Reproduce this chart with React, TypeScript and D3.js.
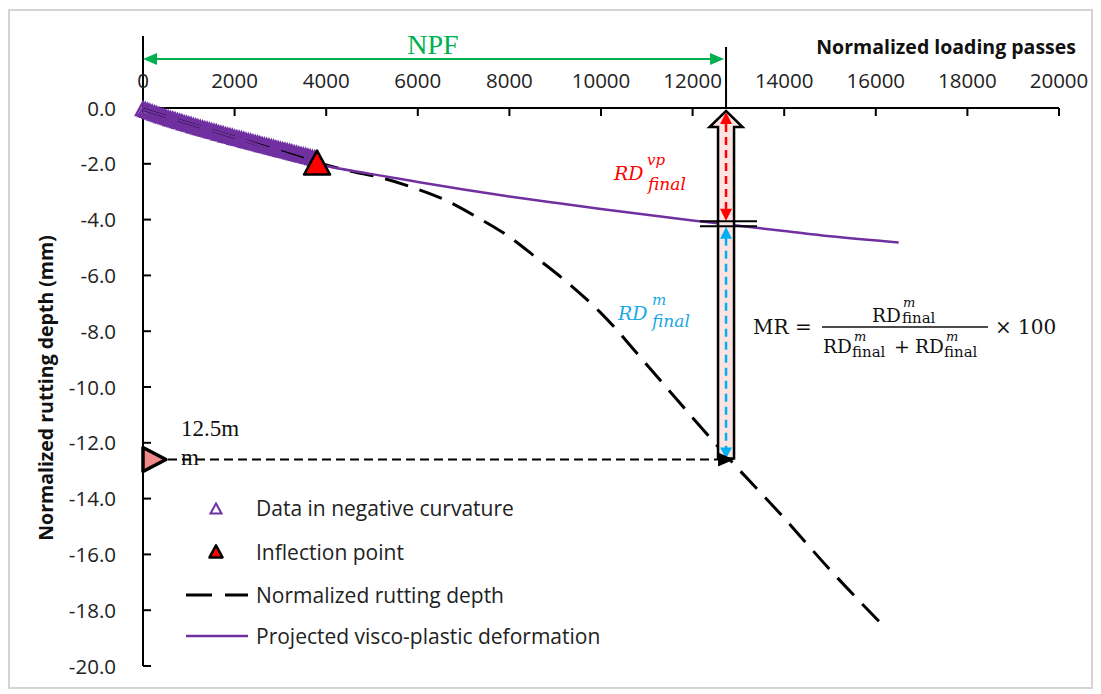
import React from 'react';
import * as d3 from 'd3';

// ---------- data ----------
const xTicks = [0, 2000, 4000, 6000, 8000, 10000, 12000, 14000, 16000, 18000, 20000];
const yTicks = [0, -2, -4, -6, -8, -10, -12, -14, -16, -18, -20];

const curvaturePasses = [0, 50, 100, 150, 200, 250, 300, 350, 400, 450, 500, 550, 600, 650, 700, 750, 800, 850, 900, 950, 1000, 1050, 1100, 1150, 1200, 1250, 1300, 1350, 1400, 1450, 1500, 1550, 1600, 1650, 1700, 1750, 1800, 1850, 1900, 1950, 2000, 2050, 2100, 2150, 2200, 2250, 2300, 2350, 2400, 2450, 2500, 2550, 2600, 2650, 2700, 2750, 2800, 2850, 2900, 2950, 3000, 3050, 3100, 3150, 3200, 3250, 3300, 3350, 3400, 3450, 3500, 3550, 3600, 3650, 3700, 3750, 3800];
const curvatureDepth = [-0.04, -0.08, -0.11, -0.14, -0.17, -0.2, -0.23, -0.26, -0.29, -0.31, -0.34, -0.37, -0.4, -0.42, -0.45, -0.47, -0.5, -0.52, -0.55, -0.57, -0.6, -0.62, -0.65, -0.67, -0.7, -0.72, -0.74, -0.77, -0.79, -0.81, -0.84, -0.86, -0.88, -0.91, -0.93, -0.95, -0.98, -1.0, -1.02, -1.04, -1.07, -1.09, -1.11, -1.13, -1.15, -1.18, -1.2, -1.22, -1.24, -1.26, -1.28, -1.31, -1.33, -1.35, -1.37, -1.39, -1.41, -1.43, -1.46, -1.48, -1.5, -1.52, -1.54, -1.56, -1.58, -1.6, -1.63, -1.65, -1.67, -1.69, -1.71, -1.73, -1.75, -1.77, -1.8, -1.82, -1.84];

const inflectionPasses = [3800];
const inflectionDepth = [-2.0];

const rutPasses = [0, 1000, 2000, 3000, 3800, 4500, 5200, 5800, 6600, 7300, 8000, 8600, 9300, 10000, 11000, 12000, 12700, 14000, 15000, 16250];
const rutDepth = [-0.05, -0.55, -1.05, -1.55, -1.95, -2.25, -2.5, -2.8, -3.3, -3.92, -4.62, -5.38, -6.3, -7.35, -9.2, -11.1, -12.4, -14.7, -16.55, -18.7];

const vpPasses = [0, 1000, 2000, 3000, 3800, 5000, 6000, 7000, 8000, 9000, 10000, 11000, 12000, 13000, 14000, 15000, 16500];
const vpDepth = [-0.05, -0.55, -1.05, -1.58, -2.0, -2.37, -2.65, -2.92, -3.17, -3.4, -3.62, -3.83, -4.03, -4.22, -4.41, -4.6, -4.82];

const npfPasses = 12730;
const vpFinalDepth = -4.15;
const thresholdDepth = -12.6;

const legendItems = ['Data in negative curvature', 'Inflection point', 'Normalized rutting depth', 'Projected visco-plastic deformation'];

// ---------- layout ----------
const W = 1101;
const H = 694;
const x = d3.scaleLinear().domain([0, 20000]).range([143, 1059]);
const y = d3.scaleLinear().domain([0, -20]).range([108, 666]);

const PURPLE = '#7030A0';
const GREEN = '#00B050';
const RED = '#FF0000';
const BLUE = '#00B0F0';
const SANS = "'Open Sans', 'Liberation Sans', sans-serif";
const SERIF = "'Liberation Serif', 'DejaVu Serif', serif";
const MATH = "'DejaVu Serif', 'Liberation Serif', serif";

const tri = (cx: number, cy: number, w: number, h: number) =>
  `M${cx},${cy - h * 0.55} L${cx + w / 2},${cy + h * 0.45} L${cx - w / 2},${cy + h * 0.45} Z`;

export default function App() {
  const rutLine = d3.line<number>().x((d, i) => x(rutPasses[i])).y((d) => y(d)).curve(d3.curveMonotoneX);
  const vpLine = d3.line<number>().x((d, i) => x(vpPasses[i])).y((d) => y(d)).curve(d3.curveMonotoneX);

  const cx = x(npfPasses);
  const yT = y(thresholdDepth);
  const yVP = y(vpFinalDepth);
  const shaft = 8;
  const head = 16.5;
  const tipY = 111;
  const headY = 127;
  const botY = yT - 1;
  const blockArrow = `M${cx},${tipY} L${cx + head},${headY} L${cx + shaft},${headY} L${cx + shaft},${botY} L${cx - shaft},${botY} L${cx - shaft},${headY} L${cx - head},${headY} Z`;

  return (
    <svg width={W} height={H} style={{ position: 'absolute', left: 0, top: 0, background: '#fff' }}>
      <rect x={9} y={10} width={1083} height={678} fill="#fff" stroke="#d4d4d4" strokeWidth={2} />

      {/* axes */}
      <line x1={x(0)} x2={x(0)} y1={36} y2={y(-20)} stroke="#000" strokeWidth={2} />
      <line x1={x(0)} x2={x(20000)} y1={y(0)} y2={y(0)} stroke="#000" strokeWidth={2} />
      {xTicks.map((t) => (
        <g key={'x' + t}>
          {t > 0 && <line x1={x(t)} x2={x(t)} y1={y(0)} y2={y(0) + 8} stroke="#000" strokeWidth={2} />}
          <text x={x(t)} y={88} textAnchor="middle" fontFamily={SANS} fontSize={20.5} fill="#222">{t}</text>
        </g>
      ))}
      {yTicks.map((t) => (
        <g key={'y' + t}>
          {t < 0 && <line x1={x(0)} x2={x(0) + 8} y1={y(t)} y2={y(t)} stroke="#000" strokeWidth={2} />}
          <text x={116} y={y(t) + 7.5} textAnchor="end" fontFamily={SANS} fontSize={20.5} fill="#222">{t.toFixed(1)}</text>
        </g>
      ))}
      <text x={1076} y={54} textAnchor="end" fontFamily={SANS} fontSize={19.5} fontWeight="bold" fill="#111">Normalized loading passes</text>
      <text transform={`translate(53,388) rotate(-90)`} textAnchor="middle" fontFamily={SANS} fontSize={19.5} fontWeight="bold" fill="#111">Normalized rutting depth (mm)</text>

      {/* NPF arrow */}
      <line x1={x(0) + 10} x2={cx - 12} y1={59} y2={59} stroke={GREEN} strokeWidth={2} />
      <path d={`M${x(0)},59 L${x(0) + 14},53 L${x(0) + 14},65 Z`} fill={GREEN} />
      <path d={`M${cx - 2},59 L${cx - 16},53 L${cx - 16},65 Z`} fill={GREEN} />
      <text x={433} y={54} textAnchor="middle" fontFamily={SERIF} fontSize={28} fill={GREEN}>NPF</text>
      <line x1={cx} x2={cx} y1={47} y2={y(0)} stroke="#000" strokeWidth={2} />

      {/* curves */}
      {curvatureDepth.map((d, i) => (
        <path key={'c' + i} d={tri(x(curvaturePasses[i]), y(d), 14, 13)} fill="none" stroke={PURPLE} strokeWidth={2.4} />
      ))}
      <path d={rutLine(rutDepth) || ''} fill="none" stroke="#000" strokeWidth={3} strokeDasharray="24 12" />
      <path d={vpLine(vpDepth) || ''} fill="none" stroke={PURPLE} strokeWidth={2.5} />
      {inflectionDepth.map((d, i) => (
        <path key={'inf' + i} d={tri(x(inflectionPasses[i]), y(d), 26, 24)} fill={RED} stroke="#000" strokeWidth={2.5} strokeLinejoin="round" />
      ))}

      {/* threshold */}
      <line x1={168} x2={cx - 8} y1={yT} y2={yT} stroke="#000" strokeWidth={2} strokeDasharray="9 5" />
      <path d={`M${x(0)},${yT - 12} L${x(0) + 23},${yT} L${x(0)},${yT + 12} Z`} fill="#F08A8A" stroke="#000" strokeWidth={3.5} strokeLinejoin="round" />
      <text x={181} y={436} fontFamily={SERIF} fontSize={23} fill="#111">12.5m</text>
      <text x={181} y={465} fontFamily={SERIF} fontSize={23} fill="#111">m</text>

      {/* block arrow */}
      <path d={blockArrow} fill="#FCE4E2" stroke="#000" strokeWidth={2.5} strokeLinejoin="miter" />
      <line x1={cx} x2={cx} y1={124} y2={yVP - 14} stroke={RED} strokeWidth={2.5} strokeDasharray="8 5" />
      <path d={`M${cx},${tipY + 1} L${cx + 6},${tipY + 13} L${cx - 6},${tipY + 13} Z`} fill={RED} />
      <path d={`M${cx},${yVP - 3} L${cx + 6},${yVP - 15} L${cx - 6},${yVP - 15} Z`} fill={RED} />
      <line x1={cx} x2={cx} y1={yVP + 14} y2={botY - 8} stroke={BLUE} strokeWidth={2.5} strokeDasharray="8 5" />
      <path d={`M${cx},${yVP + 3} L${cx + 6},${yVP + 15} L${cx - 6},${yVP + 15} Z`} fill={BLUE} />
      <path d={`M${cx},${botY} L${cx + 6},${botY - 11} L${cx - 6},${botY - 11} Z`} fill={BLUE} />
      <line x1={700} x2={757} y1={yVP - 2.5} y2={yVP - 2.5} stroke="#000" strokeWidth={2} />
      <line x1={700} x2={757} y1={yVP + 2.5} y2={yVP + 2.5} stroke="#000" strokeWidth={2} />
      <path d={`M${cx + 8},${yT} L${cx - 8},${yT - 7} L${cx - 8},${yT + 7} Z`} fill="#000" />

      {/* RD labels */}
      <g fontFamily={MATH} fontStyle="italic" fill={RED}>
        <text x={614} y={180} fontSize={19}>RD</text>
        <text x={647} y={165} fontSize={15}>vp</text>
        <text x={648} y={190} fontSize={17}>final</text>
      </g>
      <g fontFamily={MATH} fontStyle="italic" fill="#1AA8E6">
        <text x={618} y={320} fontSize={19}>RD</text>
        <text x={652} y={305} fontSize={15}>m</text>
        <text x={652} y={327} fontSize={17}>final</text>
      </g>

      {/* formula */}
      <g fontFamily={MATH} fill="#111">
        <text x={753} y={334} fontSize={20}>MR =</text>
        <text x={872} y={322} fontSize={18.5}>RD</text>
        <text x={903} y={307} fontSize={13} fontStyle="italic">m</text>
        <text x={902} y={323} fontSize={15}>final</text>
        <line x1={822} x2={988} y1={327} y2={327} stroke="#111" strokeWidth={1.3} />
        <text x={823} y={353} fontSize={18.5}>RD</text>
        <text x={854} y={341} fontSize={13} fontStyle="italic">m</text>
        <text x={852} y={357} fontSize={15}>final</text>
        <text x={894} y={353} fontSize={19}>+</text>
        <text x={915} y={353} fontSize={18.5}>RD</text>
        <text x={946} y={341} fontSize={13} fontStyle="italic">m</text>
        <text x={944} y={357} fontSize={15}>final</text>
        <text x={995} y={334} fontSize={20}>× 100</text>
      </g>

      {/* legend */}
      <path d={tri(216, 509, 11, 10)} fill="none" stroke={PURPLE} strokeWidth={2} />
      <path d={tri(216, 552, 13, 12)} fill={RED} stroke="#000" strokeWidth={2.5} strokeLinejoin="round" />
      <line x1={186} x2={248} y1={595} y2={595} stroke="#000" strokeWidth={3} strokeDasharray="26 13" />
      <line x1={186} x2={248} y1={636} y2={636} stroke={PURPLE} strokeWidth={2.5} />
      {legendItems.map((t, i) => (
        <text key={t} x={256} y={[516, 560, 603, 644][i]} fontFamily={SANS} fontSize={21} fill="#222">{t}</text>
      ))}
    </svg>
  );
}
